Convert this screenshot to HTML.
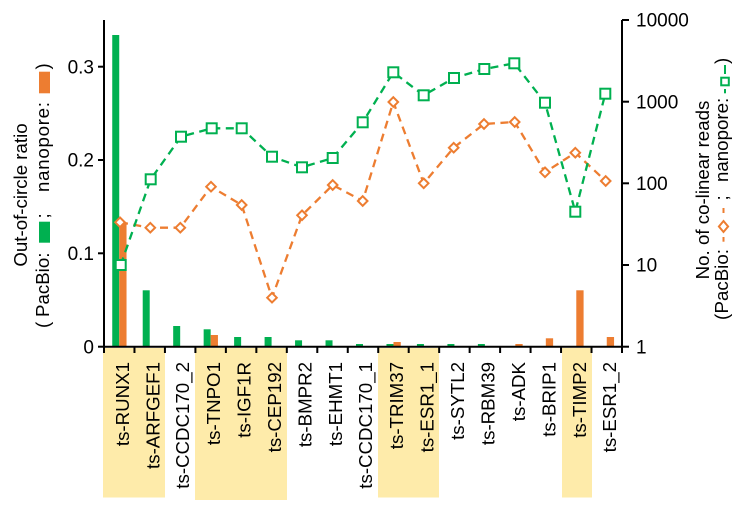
<!DOCTYPE html>
<html><head><meta charset="utf-8">
<style>
html,body{margin:0;padding:0;background:#fff;}
svg{display:block;font-family:"Liberation Sans",Arial,sans-serif;}
</style></head>
<body>
<svg width="744" height="508" viewBox="0 0 744 508" xmlns="http://www.w3.org/2000/svg">
<rect width="744" height="508" fill="#fff"/>
<!-- highlight boxes -->
<g fill="#FEEBAA">
<rect x="103" y="348" width="62" height="149.5"/>
<rect x="195" y="348" width="92" height="152"/>
<rect x="378" y="348" width="61" height="149.5"/>
<rect x="562" y="348" width="30" height="149.5"/>
</g>
<!-- bars green -->
<g fill="#00B050">
<rect x="112.24" y="35" width="7" height="311.7"/>
<rect x="142.71" y="290.3" width="7" height="56.4"/>
<rect x="173.18" y="326" width="7" height="20.7"/>
<rect x="203.65" y="329.3" width="7" height="17.4"/>
<rect x="234.12" y="337" width="7" height="9.7"/>
<rect x="264.59" y="337" width="7" height="9.7"/>
<rect x="295.06" y="340.3" width="7" height="6.4"/>
<rect x="325.53" y="340.3" width="7" height="6.4"/>
<rect x="356" y="344" width="7" height="2.7"/>
<rect x="386.47" y="344" width="7" height="2.7"/>
<rect x="416.94" y="344" width="7" height="2.7"/>
<rect x="447.41" y="344" width="7" height="2.7"/>
<rect x="477.88" y="344" width="7" height="2.7"/>
</g>
<!-- bars orange -->
<g fill="#ED7D31">
<rect x="119.24" y="224" width="7.3" height="122.7"/>
<rect x="210.65" y="335" width="7.3" height="11.7"/>
<rect x="393.47" y="342" width="7.3" height="4.7"/>
<rect x="515.35" y="344" width="7.3" height="2.7"/>
<rect x="545.82" y="338.3" width="7.3" height="8.4"/>
<rect x="576.29" y="290.3" width="7.3" height="56.4"/>
<rect x="606.76" y="337" width="7.3" height="9.7"/>
</g>
<!-- orange line -->
<polyline fill="none" stroke="#ED7D31" stroke-width="2.3" stroke-dasharray="8 5.5"
 points="120,222.3 150.3,227.7 180.3,227.7 211,186.7 241.7,205 272,297.7 302,215.3 332.7,185 362.7,201 393.3,102 423.7,183.3 453.7,147.7 484,124 514.7,122 545,172.3 575.3,152.7 605.7,181"/>
<!-- green line -->
<polyline fill="none" stroke="#00B050" stroke-width="2.3" stroke-dasharray="8 5.5"
 points="120.7,265 150.7,179.3 181,136.7 211.7,128.3 241.7,128.3 272,156.7 302,167.3 332.7,158 362.7,122.3 393.3,72.3 423.7,95.3 454,78 484.3,69 514.3,63.3 545,102.7 575.3,211.7 605.3,93.7"/>
<!-- orange diamonds -->
<g fill="#fff" stroke="#ED7D31" stroke-width="2">
<path d="M120,217.5 l4.8,4.8 l-4.8,4.8 l-4.8,-4.8z"/>
<path d="M150.3,222.9 l4.8,4.8 l-4.8,4.8 l-4.8,-4.8z"/>
<path d="M180.3,222.9 l4.8,4.8 l-4.8,4.8 l-4.8,-4.8z"/>
<path d="M211,181.9 l4.8,4.8 l-4.8,4.8 l-4.8,-4.8z"/>
<path d="M241.7,200.2 l4.8,4.8 l-4.8,4.8 l-4.8,-4.8z"/>
<path d="M272,292.9 l4.8,4.8 l-4.8,4.8 l-4.8,-4.8z"/>
<path d="M302,210.5 l4.8,4.8 l-4.8,4.8 l-4.8,-4.8z"/>
<path d="M332.7,180.2 l4.8,4.8 l-4.8,4.8 l-4.8,-4.8z"/>
<path d="M362.7,196.2 l4.8,4.8 l-4.8,4.8 l-4.8,-4.8z"/>
<path d="M393.3,97.2 l4.8,4.8 l-4.8,4.8 l-4.8,-4.8z"/>
<path d="M423.7,178.5 l4.8,4.8 l-4.8,4.8 l-4.8,-4.8z"/>
<path d="M453.7,142.9 l4.8,4.8 l-4.8,4.8 l-4.8,-4.8z"/>
<path d="M484,119.2 l4.8,4.8 l-4.8,4.8 l-4.8,-4.8z"/>
<path d="M514.7,117.2 l4.8,4.8 l-4.8,4.8 l-4.8,-4.8z"/>
<path d="M545,167.5 l4.8,4.8 l-4.8,4.8 l-4.8,-4.8z"/>
<path d="M575.3,147.9 l4.8,4.8 l-4.8,4.8 l-4.8,-4.8z"/>
<path d="M605.7,176.2 l4.8,4.8 l-4.8,4.8 l-4.8,-4.8z"/>
</g>
<!-- green squares -->
<g fill="#fff" stroke="#00B050" stroke-width="2">
<rect x="115.7" y="260" width="10" height="10"/>
<rect x="145.7" y="174.3" width="10" height="10"/>
<rect x="176" y="131.7" width="10" height="10"/>
<rect x="206.7" y="123.3" width="10" height="10"/>
<rect x="236.7" y="123.3" width="10" height="10"/>
<rect x="267" y="151.7" width="10" height="10"/>
<rect x="297" y="162.3" width="10" height="10"/>
<rect x="327.7" y="153" width="10" height="10"/>
<rect x="357.7" y="117.3" width="10" height="10"/>
<rect x="388.3" y="67.3" width="10" height="10"/>
<rect x="418.7" y="90.3" width="10" height="10"/>
<rect x="449" y="73" width="10" height="10"/>
<rect x="479.3" y="64" width="10" height="10"/>
<rect x="509.3" y="58.3" width="10" height="10"/>
<rect x="540" y="97.7" width="10" height="10"/>
<rect x="570.3" y="206.7" width="10" height="10"/>
<rect x="600.3" y="88.7" width="10" height="10"/>
</g>
<!-- axes -->
<g stroke="#000" stroke-width="2" fill="none">
<line x1="104" y1="20" x2="104" y2="347.7"/>
<line x1="622" y1="20" x2="622" y2="347.7"/>
<line x1="103" y1="346.7" x2="623" y2="346.7"/>
<!-- left ticks -->
<line x1="98" y1="66.7" x2="104" y2="66.7"/>
<line x1="98" y1="160" x2="104" y2="160"/>
<line x1="98" y1="253.3" x2="104" y2="253.3"/>
<line x1="98" y1="346.7" x2="104" y2="346.7"/>
<!-- right ticks -->
<line x1="622" y1="20" x2="629" y2="20"/>
<line x1="622" y1="101.7" x2="629" y2="101.7"/>
<line x1="622" y1="183.3" x2="629" y2="183.3"/>
<line x1="622" y1="265" x2="629" y2="265"/>
<line x1="622" y1="346.7" x2="629" y2="346.7"/>
<!-- bottom ticks -->
<path d="M104,347v6 M134.47,347v6 M164.94,347v6 M195.41,347v6 M225.88,347v6 M256.35,347v6 M286.82,347v6 M317.29,347v6 M347.76,347v6 M378.23,347v6 M408.7,347v6 M439.17,347v6 M469.64,347v6 M500.11,347v6 M530.58,347v6 M561.05,347v6 M591.52,347v6 M622,347v6"/>
</g>
<!-- tick labels -->
<g font-size="19" fill="#000">
<text x="94" y="73.4" text-anchor="end">0.3</text>
<text x="94" y="166.7" text-anchor="end">0.2</text>
<text x="94" y="260" text-anchor="end">0.1</text>
<text x="94" y="353.4" text-anchor="end">0</text>
<text x="636" y="26.7">10000</text>
<text x="636" y="108.4">1000</text>
<text x="636" y="190">100</text>
<text x="636" y="271.7">10</text>
<text x="636" y="353.4">1</text>
</g>
<!-- x labels -->
<g font-size="18.7" fill="#000" text-anchor="end">
<text transform="translate(129,362) rotate(-90)">ts-RUNX1</text>
<text transform="translate(159.5,362) rotate(-90)">ts-ARFGEF1</text>
<text transform="translate(189,362) rotate(-90)">ts-CCDC170_2</text>
<text transform="translate(220,362) rotate(-90)">ts-TNPO1</text>
<text transform="translate(250.5,362) rotate(-90)">ts-IGF1R</text>
<text transform="translate(281,362) rotate(-90)">ts-CEP192</text>
<text transform="translate(311.5,362) rotate(-90)">ts-BMPR2</text>
<text transform="translate(342,362) rotate(-90)">ts-EHMT1</text>
<text transform="translate(372,362) rotate(-90)">ts-CCDC170_1</text>
<text transform="translate(403,362) rotate(-90)">ts-TRIM37</text>
<text transform="translate(433.5,362) rotate(-90)">ts-ESR1_1</text>
<text transform="translate(464,362) rotate(-90)">ts-SYTL2</text>
<text transform="translate(494.5,362) rotate(-90)">ts-RBM39</text>
<text transform="translate(525,362) rotate(-90)">ts-ADK</text>
<text transform="translate(555.5,362) rotate(-90)">ts-BRIP1</text>
<text transform="translate(586,362) rotate(-90)">ts-TIMP2</text>
<text transform="translate(616,362) rotate(-90)">ts-ESR1_2</text>
</g>
<!-- left title -->
<g font-size="18.7" fill="#000">
<text transform="translate(27,195) rotate(-90)" text-anchor="middle">Out-of-circle ratio</text>
<g transform="translate(49,328) rotate(-90)">
<text x="0" y="0">(</text>
<text x="11" y="0">PacBio:</text>
<text x="109.5" y="0">;</text>
<text x="136" y="0" textLength="90" lengthAdjust="spacing">nanopore:</text>
<text x="258.5" y="0">)</text>
</g>
</g>
<rect x="39" y="221.7" width="11" height="21" fill="#00B050"/>
<rect x="39" y="71.7" width="11" height="21.6" fill="#ED7D31"/>
<!-- right title -->
<g font-size="18.7" fill="#000">
<text transform="translate(709,190) rotate(-90)" text-anchor="middle">No. of co-linear reads</text>
<g transform="translate(728,320) rotate(-90)">
<text x="0" y="0">(</text>
<text x="6.5" y="0">PacBio:</text>
<text x="119.5" y="0">;</text>
<text x="138" y="0">nanopore:</text>
<text x="256" y="0">)</text>
</g>
</g>
<!-- right legend markers -->
<g stroke="#ED7D31" stroke-width="2" fill="#fff">
<line x1="723.5" y1="241.7" x2="723.5" y2="237"/>
<line x1="723.5" y1="213" x2="723.5" y2="208"/>
<path d="M723.5,221 l4.6,5.5 l-4.6,5.5 l-4.6,-5.5z"/>
</g>
<g stroke="#00B050" stroke-width="2" fill="#fff">
<line x1="725" y1="93.3" x2="725" y2="89"/>
<line x1="725" y1="74" x2="725" y2="65"/>
<rect x="721.2" y="77.7" width="7.6" height="7.6"/>
</g>
</svg>
</body></html>
